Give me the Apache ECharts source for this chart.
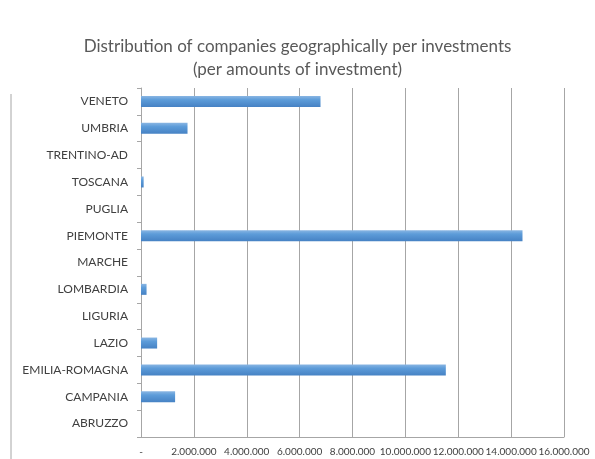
<!DOCTYPE html>
<html>
<head>
<meta charset="utf-8">
<script src="https://cdn.jsdelivr.net/npm/echarts@6/dist/echarts.min.js"></script>
<style>
  html, body { margin: 0; padding: 0; background: #fff; }
  #chart { width: 595px; height: 459px; }
</style>
</head>
<body>
<div id="chart"></div>
<script>
// regions, bottom to top (as in the reference)
const regions = ['ABRUZZO', 'CAMPANIA', 'EMILIA-ROMAGNA', 'LAZIO', 'LIGURIA', 'LOMBARDIA',
  'MARCHE', 'PIEMONTE', 'PUGLIA', 'TOSCANA', 'TRENTINO-AD', 'UMBRIA', 'VENETO'];
// investment amounts (EUR)
const amounts = [0, 1290000, 11530000, 610000, 0, 210000,
  0, 14430000, 0, 100000, 0, 1760000, 6790000];
const axisMax = 16000000;
const axisStep = 2000000;

const chart = echarts.init(document.getElementById('chart'));

// 12000000 -> "12.000.000", 0 -> "-"
function fmt(v) {
  if (v === 0) return '-';
  return String(v).replace(/\B(?=(\d{3})+(?!\d))/g, '.');
}

const gray = '#a6a6a6';

chart.setOption({
  animation: false,
  textStyle: { fontFamily: 'Lato' },
  title: {
    text: 'Distribution of companies geographically per investments\n(per amounts of investment)',
    left: 'center',
    top: 30,
    textStyle: {
      fontFamily: 'Lato',
      fontSize: 17,
      fontWeight: 'normal',
      color: '#595959',
      lineHeight: 23
    }
  },
  grid: { left: 141, right: 31, top: 88, bottom: 22, containLabel: false },
  xAxis: {
    type: 'value',
    min: 0,
    max: axisMax,
    interval: axisStep,
    axisLine: { show: true, lineStyle: { color: gray, width: 1 } },
    axisTick: { show: false },
    splitLine: { show: true, lineStyle: { color: gray, width: 1 } },
    axisLabel: {
      formatter: fmt,
      color: '#404040',
      fontSize: 10,
      margin: 10,
      hideOverlap: false,
      showMinLabel: true,
      showMaxLabel: true
    }
  },
  yAxis: {
    type: 'category',
    data: regions,
    axisLine: { show: true, lineStyle: { color: gray, width: 1 } },
    axisTick: { show: true, length: 4, lineStyle: { color: gray } },
    axisLabel: { color: '#404040', fontSize: 12, margin: 13 }
  },
  series: [{
    type: 'bar',
    data: amounts,
    barWidth: 11,
    itemStyle: {
      color: new echarts.graphic.LinearGradient(0, 0, 0, 1, [
        { offset: 0, color: '#8ab6e3' },
        { offset: 0.35, color: '#5d9cd9' },
        { offset: 1, color: '#4682c4' }
      ])
    }
  }],
  graphic: [{
    type: 'line',
    shape: { x1: 11, y1: 94, x2: 11, y2: 459 },
    style: { stroke: '#a6a6a6', lineWidth: 1 }
  }]
});
</script>
</body>
</html>
